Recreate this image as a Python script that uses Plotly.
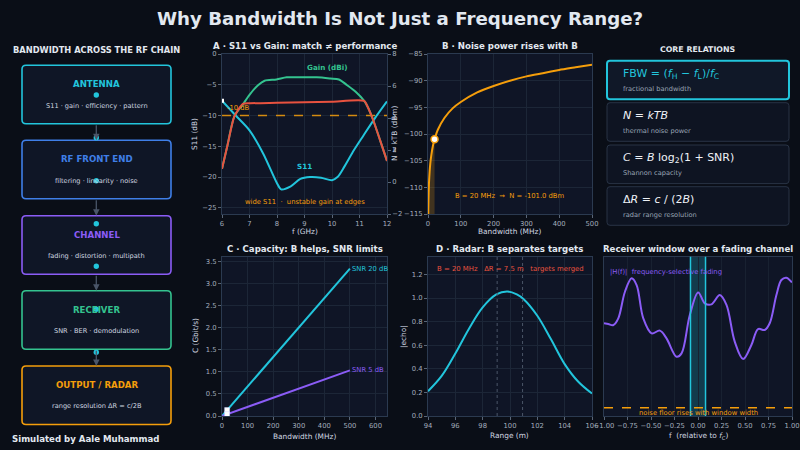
import plotly.graph_objects as go

# ---------------- data ----------------
chain_stages = ["ANTENNA", "RF FRONT END", "CHANNEL", "RECEIVER", "OUTPUT / RADAR"]
chain_details = ["S11 · gain · efficiency · pattern", "filtering · linearity · noise",
                 "fading · distortion · multipath", "SNR · BER · demodulation",
                 "range resolution ΔR = c/2B"]

# Panel A : S11 vs gain
s11_freq = [6.0, 6.5, 7.0, 7.5, 8.0, 8.15, 8.5, 8.85, 9.2, 9.6, 10.0, 10.2, 10.45, 10.8, 11.15, 11.55, 12.0]
s11_db = [-7.6, -10.0, -12.4, -16.2, -21.0, -22.0, -21.5, -20.3, -20.0, -20.1, -20.5, -20.0, -18.3, -15.6, -13.2, -10.5, -7.7]
gain_freq = [6.0, 6.2, 6.45, 6.76, 7.0, 7.31, 7.55, 7.98, 8.35, 8.84, 9.45, 9.94, 10.25, 10.55, 10.86, 11.17, 11.3, 11.5, 11.75, 12.0]
gain_dbi = [0.82, 2.3, 4.1, 4.85, 5.45, 6.05, 6.33, 6.41, 6.54, 6.54, 6.54, 6.47, 6.41, 6.05, 5.64, 5.07, 4.69, 3.86, 2.60, 1.31]
edge_freq = [6.0, 6.2, 6.45, 6.76, 7.0, 8.0, 9.0, 10.0, 11.17, 11.3, 11.5, 11.75, 12.0]
edge_gain = [0.82, 2.3, 4.1, 4.88, 4.92, 4.95, 4.98, 5.02, 5.07, 4.69, 3.86, 2.60, 1.31]
s11_threshold = -10
freq_ticks = [6, 7, 8, 9, 10, 11, 12]
s11_ticks = [0, -5, -10, -15, -20, -25]
gain_ticks = [8, 6, 4, 2, 0, -2]

# Panel B : thermal noise
noise_bw = [0.5, 1, 2, 3, 5, 7, 10, 15, 20, 30, 50, 75, 100, 150, 200, 250, 300, 350, 400, 450, 500]
noise_dbm = [-117, -114, -111, -109.2, -107, -105.5, -104, -102.2, -101, -99.2, -97, -95.2, -94,
             -92.2, -91, -90, -89.2, -88.6, -88, -87.5, -87]
bw_selected = 20
noise_selected = -101.0
bw_ticks = [0, 100, 200, 300, 400, 500]
noise_ticks = [-85, -90, -95, -100, -105, -110, -115]

# Panel C : Shannon capacity
cap_bw = [1, 100, 200, 300, 400, 500]
cap_snr20 = [0.007, 0.666, 1.332, 1.997, 2.663, 3.33]
cap_snr5 = [0.002, 0.206, 0.411, 0.617, 0.823, 1.03]
cap_marker = [0.133, 0.041]
cap_x_ticks = [0, 100, 200, 300, 400, 500, 600]
cap_y_ticks = [0, 0.5, 1.0, 1.5, 2.0, 2.5, 3.0, 3.5]

# Panel D : radar echo
range_m = [94, 95, 96, 97, 98, 99, 99.8, 100.5, 101, 102, 103, 104, 105, 106]
echo = [0.21, 0.34, 0.53, 0.74, 0.92, 1.03, 1.055, 1.03, 0.99, 0.85, 0.65, 0.44, 0.29, 0.19]
target_ranges = [99.06, 100.92]
range_ticks = [94, 96, 98, 100, 102, 104, 106]
echo_ticks = [0.0, 0.2, 0.4, 0.6, 0.8, 1.0, 1.2]

# Panel E : fading channel
fade_f = [-1.0, -0.954, -0.90, -0.848, -0.777, -0.706, -0.653, -0.582, -0.494, -0.405, -0.335, -0.228,
          -0.175, -0.087, 0.002, 0.073, 0.143, 0.232, 0.303, 0.391, 0.480, 0.568, 0.639, 0.710,
          0.763, 0.834, 0.887, 0.940, 0.993, 1.0]
fade_h = [0.582, 0.577, 0.571, 0.613, 0.780, 0.864, 0.822, 0.613, 0.519, 0.536, 0.487, 0.372,
          0.393, 0.634, 0.776, 0.707, 0.701, 0.759, 0.697, 0.467, 0.358, 0.446, 0.546, 0.540,
          0.582, 0.759, 0.854, 0.868, 0.843, 0.838]
window_edges = [-0.08, 0.08]
noise_floor = 0.052
fade_ticks = [-1.0, -0.75, -0.5, -0.25, 0.0, 0.25, 0.5, 0.75, 1.0]

relations = ["FBW = (<i>f</i><sub>H</sub> − <i>f</i><sub>L</sub>)/<i>f</i><sub>C</sub>",
             "<i>N</i> = <i>kTB</i>",
             "<i>C</i> = <i>B</i> log<sub>2</sub>(1 + SNR)",
             "Δ<i>R</i> = <i>c</i> / (2<i>B</i>)"]
relation_notes = ["fractional bandwidth", "thermal noise power", "Shannon capacity", "radar range resolution"]

# ---------------- style ----------------
W, H = 800, 450
BG = "#0a0e17"
PLOT_BG = "#0f1526"
BOX_BG = "#0f1626"
GRID = "#1c2637"
SPINE = "#2b3a50"
TICK = "#a3adbd"
TXT = "#e2e8f0"
LBL = "#d0d6e0"
CYAN = "#22c5dc"
BLUE = "#3f7fe8"
PURPLE = "#8b5cf6"
GREEN = "#34c38f"
ORANGE = "#f59e0b"
RED = "#e8523f"
FONT = "DejaVu Sans"
chain_colors = [CYAN, BLUE, PURPLE, GREEN, ORANGE]


def X(x):
    return x / W


def Y(y):
    return 1 - y / H


def rrect(x0, y0, x1, y1, r=4):
    return (f"M {X(x0 + r)},{Y(y0)} L {X(x1 - r)},{Y(y0)} Q {X(x1)},{Y(y0)} {X(x1)},{Y(y0 + r)} "
            f"L {X(x1)},{Y(y1 - r)} Q {X(x1)},{Y(y1)} {X(x1 - r)},{Y(y1)} L {X(x0 + r)},{Y(y1)} "
            f"Q {X(x0)},{Y(y1)} {X(x0)},{Y(y1 - r)} L {X(x0)},{Y(y0 + r)} Q {X(x0)},{Y(y0)} {X(x0 + r)},{Y(y0)} Z")


def paper_text(px, py, text, size, color, xanchor="center", rot=0):
    return dict(x=X(px), y=Y(py), xref="paper", yref="paper", text=text, showarrow=False, textangle=rot,
                font=dict(size=size, color=color, family=FONT), xanchor=xanchor, yanchor="middle")


def axis(domain, rng, tickvals, anchor, fmt=None, grid=True, labels=True, **kw):
    d = dict(domain=domain, range=rng, tickvals=tickvals, showgrid=grid, gridcolor=GRID, gridwidth=0.7,
             zeroline=False, showline=True, linecolor=SPINE, linewidth=1, mirror=True,
             ticks="outside", ticklen=3, tickwidth=0.8, tickcolor="#5a6678",
             tickfont=dict(size=6.8, color=TICK, family=FONT), anchor=anchor, fixedrange=True,
             showticklabels=labels, automargin=False)
    if fmt:
        d["tickformat"] = fmt
    d.update(kw)
    return d


top_dom = [Y(214), Y(54)]
bot_dom = [Y(416), Y(256.7)]
colA = [X(222), X(387)]
colB = [X(428), X(592)]
colE = [X(604), X(792)]

fig = go.Figure()

# ---- Panel A ----
fig.add_trace(go.Scatter(x=[freq_ticks[0], freq_ticks[-1]], y=[s11_threshold] * 2, mode="lines",
                         line=dict(color=ORANGE, width=1.4, dash="dash"), opacity=0.85,
                         xaxis="x", yaxis="y", hoverinfo="skip"))
fig.add_trace(go.Scatter(x=s11_freq, y=s11_db, mode="lines", line=dict(color=CYAN, width=2, shape="spline", smoothing=0.8),
                         xaxis="x", yaxis="y"))
fig.add_trace(go.Scatter(x=[s11_freq[0]], y=[s11_db[0]], mode="markers",
                         marker=dict(symbol="square", size=4, color="white"), xaxis="x", yaxis="y"))
fig.add_trace(go.Scatter(x=gain_freq, y=gain_dbi, mode="lines", line=dict(color=GREEN, width=2, shape="spline", smoothing=0.8),
                         xaxis="x", yaxis="y2"))
fig.add_trace(go.Scatter(x=edge_freq, y=edge_gain, mode="lines", line=dict(color=RED, width=2, shape="spline", smoothing=0.6),
                         xaxis="x", yaxis="y2"))

# ---- Panel B ----
sel = [i for i, b in enumerate(noise_bw) if b <= bw_selected]
fx = [noise_bw[i] for i in sel] + [noise_bw[sel[-1]], noise_bw[sel[0]]]
fy = [noise_dbm[i] for i in sel] + [noise_ticks[-1], noise_ticks[-1]]
fig.add_trace(go.Scatter(x=fx, y=fy, mode="lines", fill="toself", fillcolor="rgba(245,158,11,0.22)",
                         line=dict(width=0), xaxis="x2", yaxis="y3", hoverinfo="skip"))
fig.add_trace(go.Scatter(x=noise_bw, y=noise_dbm, mode="lines", line=dict(color=ORANGE, width=2, shape="spline", smoothing=0.6),
                         xaxis="x2", yaxis="y3"))
fig.add_trace(go.Scatter(x=[bw_selected], y=[noise_selected], mode="markers",
                         marker=dict(size=7, color="white", line=dict(color=ORANGE, width=1.5)),
                         xaxis="x2", yaxis="y3"))

# ---- Panel C ----
fig.add_trace(go.Scatter(x=cap_bw, y=cap_snr20, mode="lines", line=dict(color=CYAN, width=2), xaxis="x3", yaxis="y4"))
fig.add_trace(go.Scatter(x=cap_bw, y=cap_snr5, mode="lines", line=dict(color=PURPLE, width=2), xaxis="x3", yaxis="y4"))
fig.add_trace(go.Scatter(x=[bw_selected, bw_selected], y=cap_marker, mode="markers",
                         marker=dict(symbol="square", size=5, color="white", line=dict(color="#c8d0ff", width=0.5)),
                         xaxis="x3", yaxis="y4"))

# ---- Panel D ----
fig.add_trace(go.Scatter(x=range_m, y=echo, mode="lines", line=dict(color=CYAN, width=2, shape="spline", smoothing=1.0),
                         xaxis="x4", yaxis="y5"))

# ---- Panel E ----
fig.add_trace(go.Scatter(x=fade_f, y=fade_h, mode="lines", line=dict(color=PURPLE, width=2, shape="spline", smoothing=1.0),
                         xaxis="x5", yaxis="y6"))
fig.add_trace(go.Scatter(x=[fade_ticks[0], fade_ticks[-1]], y=[noise_floor] * 2, mode="lines",
                         line=dict(color=ORANGE, width=1.5, dash="dash"), xaxis="x5", yaxis="y6"))

shapes = []
annotations = []

# window in panel E
shapes.append(dict(type="rect", xref="x5", yref="y6 domain", x0=window_edges[0], x1=window_edges[1], y0=0, y1=1,
                   fillcolor="rgba(34,197,220,0.22)", line=dict(width=0), layer="below"))
for e in window_edges:
    shapes.append(dict(type="line", xref="x5", yref="y6 domain", x0=e, x1=e, y0=0, y1=1,
                       line=dict(color=CYAN, width=1.5)))
# radar target markers
for r in target_ranges:
    shapes.append(dict(type="line", xref="x4", yref="y5 domain", x0=r, x1=r, y0=0, y1=1,
                       line=dict(color="#4b5668", width=1, dash="dot")))

# ---- left chain ----
box_tops = [65.3, 140.3, 215.7, 290.7, 366]
box_h = 58.5
for i, (name, det, col) in enumerate(zip(chain_stages, chain_details, chain_colors)):
    t = box_tops[i]
    shapes.append(dict(type="path", xref="paper", yref="paper", path=rrect(22, t, 171, t + box_h, 4),
                       fillcolor=BOX_BG, line=dict(color=col, width=1.6)))
    annotations.append(paper_text(96.5, t + 19, f"<b>{name}</b>", 8.6, col))
    annotations.append(paper_text(96.5, t + 40.4, det, 6.6, LBL))
    if i < len(chain_stages) - 1:
        b = t + box_h
        nt = box_tops[i + 1]
        annotations.append(dict(x=X(96.3), y=Y(nt), xref="paper", yref="paper", ax=0, ay=-(nt - b),
                                axref="pixel", ayref="pixel",
                                showarrow=True, arrowhead=2, arrowsize=1, arrowwidth=1.3, arrowcolor="#4a5568",
                                text=""))
for dy in [95, 137.7, 180.7, 223.7, 266.3, 309.3, 352.3]:
    shapes.append(dict(type="circle", xref="paper", yref="paper", x0=X(96.3 - 2.7), x1=X(96.3 + 2.7),
                       y0=Y(dy + 2.7), y1=Y(dy - 2.7), fillcolor=CYAN, line=dict(width=0)))

annotations.append(paper_text(96.5, 50.3, "<b>BANDWIDTH ACROSS THE RF CHAIN</b>", 8.3, TXT))
annotations.append(paper_text(10, 439, "<b>Simulated by Aale Muhammad</b>", 8.6, TXT, xanchor="left"))

# ---- core relations ----
annotations.append(paper_text(697.5, 49, "<b>CORE RELATIONS</b>", 7.8, TXT))
rel_tops = [60.7, 102.7, 145, 186.7]
for i, (rel, note) in enumerate(zip(relations, relation_notes)):
    t = rel_tops[i]
    first = i == 0
    shapes.append(dict(type="path", xref="paper", yref="paper", path=rrect(607, t, 789, t + 38.6, 3),
                       fillcolor="#101828" if first else "#0e1422",
                       line=dict(color=CYAN if first else "#283345", width=2 if first else 1)))
    annotations.append(paper_text(621, t + 13.2, rel, 11, CYAN if first else "#eef2f7", xanchor="left"))
    annotations.append(paper_text(621, t + 28.3, note, 6.6, "#9aa5b5", xanchor="left"))

# ---- titles ----
annotations.append(paper_text(400, 18.3, "<b>Why Bandwidth Is Not Just a Frequency Range?</b>", 18.2, TXT))
for cx, cy, txt in [(304.5, 46, "A · S11 vs Gain: match ≠ performance"),
                    (510, 46, "B · Noise power rises with B"),
                    (304.5, 249, "C · Capacity: B helps, SNR limits"),
                    (510, 249, "D · Radar: B separates targets"),
                    (698, 249, "Receiver window over a fading channel")]:
    annotations.append(paper_text(cx, cy, f"<b>{txt}</b>", 8.6, TXT))

# axis labels
for cx, cy, txt, rot in [(304.5, 231.7, "f (GHz)", 0), (195, 134, "S11 (dB)", -90),
                         (510, 231.7, "Bandwidth (MHz)", 0), (395, 134, "N = kTB (dBm)", -90),
                         (304.5, 436, "Bandwidth (MHz)", 0), (195, 336, "C (Gbit/s)", -90),
                         (510, 435.5, "Range (m)", 0), (403, 337, "|echo|", -90),
                         (698, 436, "f  (relative to <i>f</i><sub>C</sub>)", 0)]:
    annotations.append(paper_text(cx, cy, txt, 7.4, LBL, rot=rot))

# in-plot labels
annotations += [
    dict(x=9.82, y=-2.2, xref="x", yref="y", text="<b>Gain (dBi)</b>", showarrow=False,
         font=dict(size=7.2, color=GREEN, family=FONT)),
    dict(x=9.0, y=-18.2, xref="x", yref="y", text="<b>S11</b>", showarrow=False,
         font=dict(size=7.2, color=CYAN, family=FONT)),
    dict(x=6.12, y=-8.7, xref="x", yref="y", text="-10 dB", showarrow=False, xanchor="left",
         font=dict(size=6.8, color=ORANGE, family=FONT)),
    dict(x=9.0, y=-24.0, xref="x", yref="y", text="wide S11  ·  unstable gain at edges", showarrow=False,
         font=dict(size=6.8, color=ORANGE, family=FONT)),
    dict(x=250, y=-111.7, xref="x2", yref="y3", text="B = 20 MHz  →  N = -101.0 dBm", showarrow=False,
         font=dict(size=6.8, color=ORANGE, family=FONT)),
    dict(x=cap_bw[-1] + 2, y=cap_snr20[-1], xref="x3", yref="y4", text="SNR 20 dB", showarrow=False, xanchor="left",
         font=dict(size=6.8, color=CYAN, family=FONT)),
    dict(x=cap_bw[-1] + 2, y=cap_snr5[-1], xref="x3", yref="y4", text="SNR 5 dB", showarrow=False, xanchor="left",
         font=dict(size=6.8, color=PURPLE, family=FONT)),
    dict(x=100.0, y=1.245, xref="x4", yref="y5", text="B = 20 MHz   ΔR = 7.5 m   targets merged", showarrow=False,
         font=dict(size=6.9, color=RED, family=FONT)),
    dict(x=-0.96, y=0.906, xref="x5", yref="y6", text="|H(f)|  frequency-selective fading", showarrow=False,
         xanchor="left", font=dict(size=6.8, color=PURPLE, family=FONT)),
    dict(x=0.0, y=0.017, xref="x5", yref="y6", text="noise floor rises with window width", showarrow=False,
         font=dict(size=6.8, color=ORANGE, family=FONT)),
]

fig.update_layout(
    width=W, height=H, margin=dict(l=0, r=0, t=0, b=0, autoexpand=False),
    paper_bgcolor=BG, plot_bgcolor=PLOT_BG, showlegend=False,
    font=dict(family=FONT, color=TXT),
    xaxis=axis(colA, [6, 12], freq_ticks, "y"),
    yaxis=axis(top_dom, [-26, 0], s11_ticks, "x"),
    yaxis2=axis(top_dom, [-2, 8], gain_ticks, "x", grid=False, overlaying="y", side="right", showline=False),
    xaxis2=axis(colB, [0, 500], bw_ticks, "y3"),
    yaxis3=axis(top_dom, [-115, -85], noise_ticks, "x2"),
    xaxis3=axis(colA, [0, 645], cap_x_ticks, "y4"),
    yaxis4=axis(bot_dom, [0, 3.6], cap_y_ticks, "x3", fmt=".1f"),
    xaxis4=axis(colB, [94, 106], range_ticks, "y5"),
    yaxis5=axis(bot_dom, [0, 1.35], echo_ticks, "x4", fmt=".1f"),
    xaxis5=axis(colE, [-1, 1], fade_ticks, "y6", fmt=".2f", gridcolor="#182131"),
    yaxis6=axis(bot_dom, [0, 1], [], "x5", grid=False, labels=False, ticks=""),
    shapes=shapes, annotations=annotations,
)

fig.write_html("out.html", post_script="document.body.style.margin='0';document.body.style.overflow='hidden';")
